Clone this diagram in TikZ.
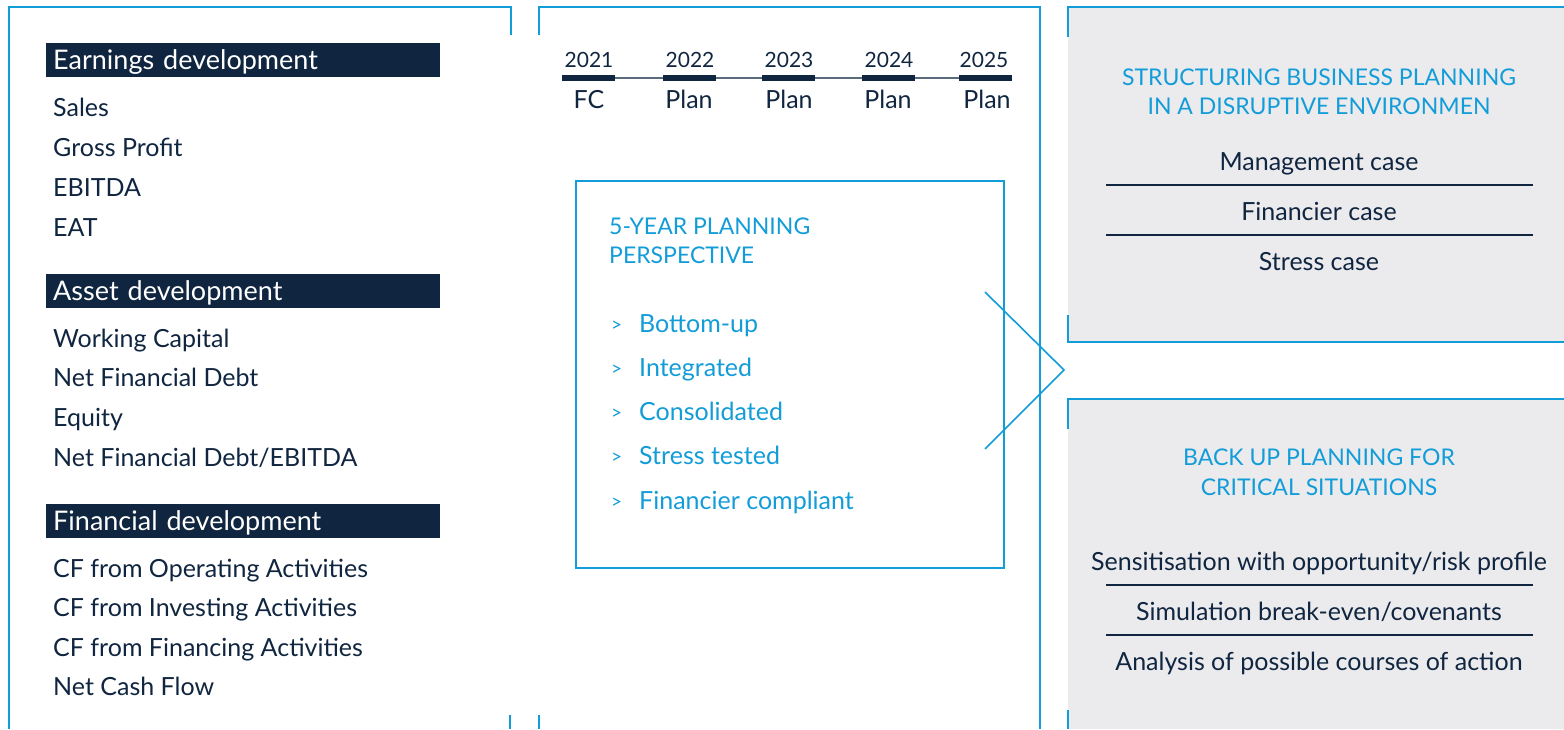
\documentclass[tikz,border=0pt]{standalone}
\usepackage{fontspec}
\setmainfont{Lato}
\definecolor{navy}{HTML}{10253F}
\definecolor{sky}{HTML}{129CD8}
\definecolor{panelgray}{HTML}{EBEBEE}
\definecolor{tline}{HTML}{5A6B7C}
\begin{document}
\begin{tikzpicture}[x=1pt,y=-1pt,
  frame/.style={draw=sky, line width=2pt},
  body/.style={anchor=base west, inner sep=0pt, text=navy, font=\fontsize{25}{29}\selectfont},
  hdr/.style={anchor=north west, fill=navy, text=white, text width=380pt, inner xsep=7pt, inner ysep=0pt,
    minimum height=34pt, text height=22pt, text depth=4pt, align=left, font=\fontsize{27}{31}\selectfont},
  year/.style={anchor=base, inner sep=0pt, text=navy, font=\fontsize{21}{25}\selectfont},
  plan/.style={anchor=base, inner sep=0pt, text=navy, font=\fontsize{25}{29}\selectfont},
  bluehead/.style={anchor=base, inner sep=0pt, text=sky, font=\fontsize{23}{27}\selectfont},
  bluehl/.style={anchor=base west, inner sep=0pt, text=sky, font=\fontsize{23}{27}\selectfont},
  bul/.style={anchor=base west, inner sep=0pt, text=sky, font=\fontsize{25}{29}\selectfont},
  case/.style={anchor=base, inner sep=0pt, text=navy, font=\fontsize{25}{29}\selectfont},
  divider/.style={draw=navy, line width=1.2pt},
  tick/.style={draw=navy, line width=6pt},
]
\useasboundingbox (0,0) rectangle (1564,729);
% gray panels
\fill[panelgray] (1068,7) rectangle (1564,342);
\fill[panelgray] (1068,399) rectangle (1564,729);
% frames
\draw[frame] (511,35) -- (511,7) -- (9,7) -- (9,729);
\draw[frame] (510,715) -- (510,729);
\draw[frame] (539,35) -- (539,7) -- (1040,7) -- (1040,729);
\draw[frame] (539,715) -- (539,729);
\draw[frame] (1068,37) -- (1068,7) -- (1564,7);
\draw[frame] (1068,315) -- (1068,342) -- (1564,342);
\draw[frame] (1068,429) -- (1068,399) -- (1564,399);
\draw[frame] (1068,710) -- (1068,729);
% inner box and chevron
\draw[frame] (576,181) rectangle (1004,568);
\draw[draw=sky, line width=1.6pt] (985,292) -- (1064,370) -- (985,449);

% left column
\node[hdr] (h1) at (46,43) {Earnings development};
\node[body] (l1) at (53,116) {Sales};
\node[body] (l2) at (53,156) {Gross Profit};
\node[body] (l3) at (53,196) {EBITDA};
\node[body] (l4) at (53,236) {EAT};
\node[hdr] (h2) at (46,274) {Asset development};
\node[body] (l5) at (53,347) {Working Capital};
\node[body] (l6) at (53,386) {Net Financial Debt};
\node[body] (l7) at (53,426) {Equity};
\node[body] (l8) at (53,466) {Net Financial Debt/EBITDA};
\node[hdr] (h3) at (46,504) {Financial development};
\node[body] (l9) at (53,577) {CF from Operating Activities};
\node[body] (l10) at (53,616) {CF from Investing Activities};
\node[body] (l11) at (53,656) {CF from Financing Activities};
\node[body] (l12) at (53,695) {Net Cash Flow};

% timeline
\coordinate (t0) at (562,78);
\coordinate (t1) at (1012,78);
\draw[draw=tline, line width=1.6pt] (t0) -- (t1);
\draw[tick] (562,78) -- (615,78);
\draw[tick] (663,78) -- (716,78);
\draw[tick] (762,78) -- (815,78);
\draw[tick] (862,78) -- (915,78);
\draw[tick] (959,78) -- (1012,78);
\node[year] (y1) at (589,67) {2021};
\node[year] (y2) at (690,67) {2022};
\node[year] (y3) at (789,67) {2023};
\node[year] (y4) at (889,67) {2024};
\node[year] (y5) at (984,67) {2025};
\node[plan] (p1) at (589,108) {FC};
\node[plan] (p2) at (689,108) {Plan};
\node[plan] (p3) at (789,108) {Plan};
\node[plan] (p4) at (888,108) {Plan};
\node[plan] (p5) at (987,108) {Plan};

% middle box
\node[bluehl] (m1) at (609,234) {5-YEAR PLANNING};
\node[bluehl] (m2) at (609,263) {PERSPECTIVE};
\foreach \t/\yy/\n in {Bottom-up/332/a, Integrated/376/b, Consolidated/420/c, Stress tested/464/d, Financier compliant/509/e}{
  \node[bul, font=\fontsize{19}{23}\selectfont] (g\n) at (611,\yy-1) {>};
  \node[bul] (b\n) at (639,\yy) {\t};
}

% right top
\node[bluehead] (r1) at (1319,85) {STRUCTURING BUSINESS PLANNING};
\node[bluehead] (r2) at (1319,114) {IN A DISRUPTIVE ENVIRONMEN};
\node[case] (c1) at (1319,170) {Management case};
\draw[divider] (1106,185) -- (1533,185);
\node[case] (c2) at (1319,220) {Financier case};
\draw[divider] (1106,235) -- (1533,235);
\node[case] (c3) at (1319,270) {Stress case};

% right bottom
\node[bluehead] (r3) at (1319,465) {BACK UP PLANNING FOR};
\node[bluehead] (r4) at (1319,495) {CRITICAL SITUATIONS};
\node[case] (c4) at (1319,570) {Sensitisation with opportunity/risk profile};
\draw[divider] (1106,585) -- (1533,585);
\node[case] (c5) at (1319,620) {Simulation break-even/covenants};
\draw[divider] (1106,635) -- (1533,635);
\node[case] (c6) at (1319,670) {Analysis of possible courses of action};
\end{tikzpicture}
\end{document}
